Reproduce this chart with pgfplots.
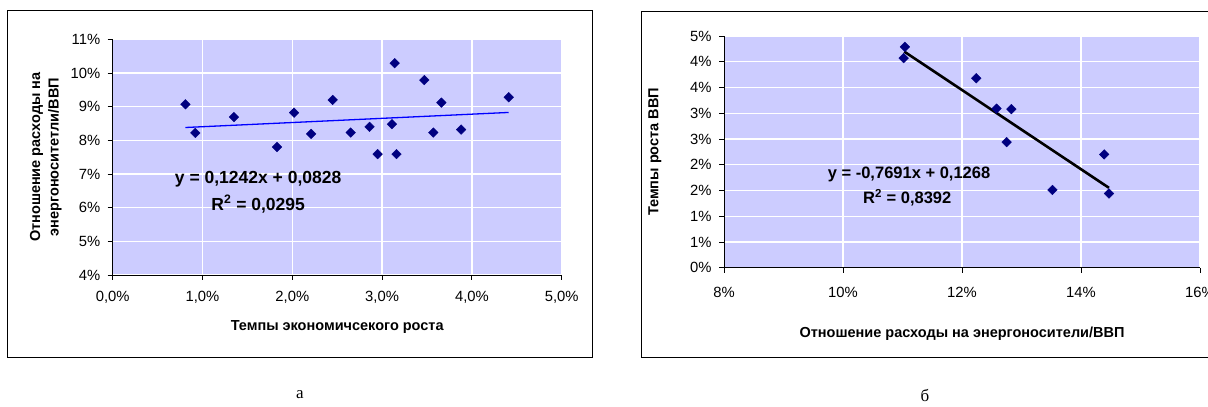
\documentclass[border=0pt]{standalone}
\usepackage{fontspec}
\setmainfont{Liberation Sans}
\newfontfamily\seriffont{Liberation Serif}
\usepackage{pgfplots}
\pgfplotsset{compat=1.18}
\definecolor{plotbg}{RGB}{204,204,255}
\definecolor{navy}{RGB}{0,0,128}
\definecolor{bordergray}{RGB}{128,128,128}
\pgfplotsset{excel/.style={
  scale only axis, anchor=south west,
  axis background/.style={fill=plotbg, draw=bordergray, line width=0.8bp},
  axis x line*=bottom, axis y line*=left,
  axis line style={black, line width=0.9bp},
  tick align=outside, major tick length=5bp,
  tick style={black, line width=0.9bp},
  grid=major, grid style={white, line width=1.3bp},
  ticklabel style={font=\fontsize{14.8bp}{16bp}\selectfont},
  yticklabel style={xshift=-4bp},
  label style={font=\bfseries\fontsize{14.5bp}{18.3bp}\selectfont},
  clip=false,
}}
\begin{document}
\begin{tikzpicture}
\path[use as bounding box] (0,0) rectangle (1208bp,407bp);
% frames
\draw[black, line width=1.2bp] (7.3bp,49.3bp) rectangle (592.3bp,396.3bp);
\draw[black, line width=1.2bp] (641.7bp,49.3bp) rectangle (1230bp,395.3bp);
% left chart
\begin{axis}[excel, at={(112.7bp,132bp)}, width=449bp, height=235.7bp,
  xmin=0, xmax=5, ymin=4, ymax=11,
  xticklabel style={yshift=-8bp},
  xtick={0,1,2,3,4,5}, xticklabels={{0,0\%},{1,0\%},{2,0\%},{3,0\%},{4,0\%},{5,0\%}},
  ytick={4,5,6,7,8,9,10,11}, yticklabels={4\%,5\%,6\%,7\%,8\%,9\%,10\%,11\%},
  xlabel={Темпы экономичсекого роста},
  ylabel={Отношение расходы на\\энергоноситетли/ВВП},
  ylabel style={at={(axis description cs:-0.149,0.5)}, anchor=center, align=center},
  xlabel style={at={(axis description cs:0.5,-0.2206)}, anchor=center},
]
\addplot[only marks, mark=square*, mark size=3.4bp, mark options={rotate=45, fill=navy, draw=navy}] coordinates {
(0.81,9.07) (0.92,8.22) (1.35,8.69) (1.83,7.80) (2.02,8.82) (2.21,8.19)
(2.45,9.20) (2.65,8.23) (2.86,8.40) (2.95,7.59) (3.11,8.48) (3.14,10.29)
(3.16,7.59) (3.47,9.79) (3.57,8.23) (3.66,9.12) (3.88,8.32) (4.41,9.28)
};
\addplot[blue, line width=1.3bp] coordinates {(0.81,8.3806) (4.41,8.8277)};
\node[font=\bfseries\fontsize{17.5bp}{20bp}\selectfont] at (axis cs:1.62,6.85) {y = 0,1242x + 0,0828};
\node[font=\bfseries\fontsize{17.5bp}{20bp}\selectfont] at (axis cs:1.62,6.11) {R\textsuperscript{2} = 0,0295};
\end{axis}
% right chart
\begin{axis}[excel, at={(724bp,139.3bp)}, width=476bp, height=231.7bp,
  xmin=8, xmax=16, ymin=0, ymax=4.5,
  xticklabel style={yshift=-11bp},
  xtick={8,10,12,14,16}, xticklabels={8\%,10\%,12\%,14\%,16\%},
  ytick={0,0.5,1,1.5,2,2.5,3,3.5,4,4.5}, yticklabels={0\%,1\%,1\%,2\%,2\%,3\%,3\%,4\%,4\%,5\%},
  xlabel={Отношение расходы на энергоносители/ВВП},
  ylabel={Темпы роста ВВП},
  ylabel style={at={(axis description cs:-0.145,0.5)}, anchor=center},
  xlabel style={at={(axis description cs:0.5,-0.286)}, anchor=center},
]
\addplot[only marks, mark=square*, mark size=3.4bp, mark options={rotate=45, fill=navy, draw=navy}] coordinates {
(11.04,4.29) (11.02,4.07) (12.24,3.68) (12.58,3.09) (12.83,3.08)
(12.75,2.44) (14.39,2.20) (13.52,1.51) (14.47,1.44)
};
\addplot[black, line width=2.6bp] coordinates {(11.03,4.1968) (14.47,1.5511)};
\node[font=\bfseries\fontsize{16.5bp}{20bp}\selectfont] at (axis cs:11.11,1.82) {y = -0,7691x + 0,1268};
\node[font=\bfseries\fontsize{16.5bp}{20bp}\selectfont] at (axis cs:11.08,1.36) {R\textsuperscript{2} = 0,8392};
\end{axis}
\node[font=\seriffont\fontsize{17bp}{20bp}\selectfont] at (300bp,12bp) {а};
\node[font=\seriffont\fontsize{17bp}{20bp}\selectfont] at (925bp,12bp) {б};
\end{tikzpicture}
\end{document}
